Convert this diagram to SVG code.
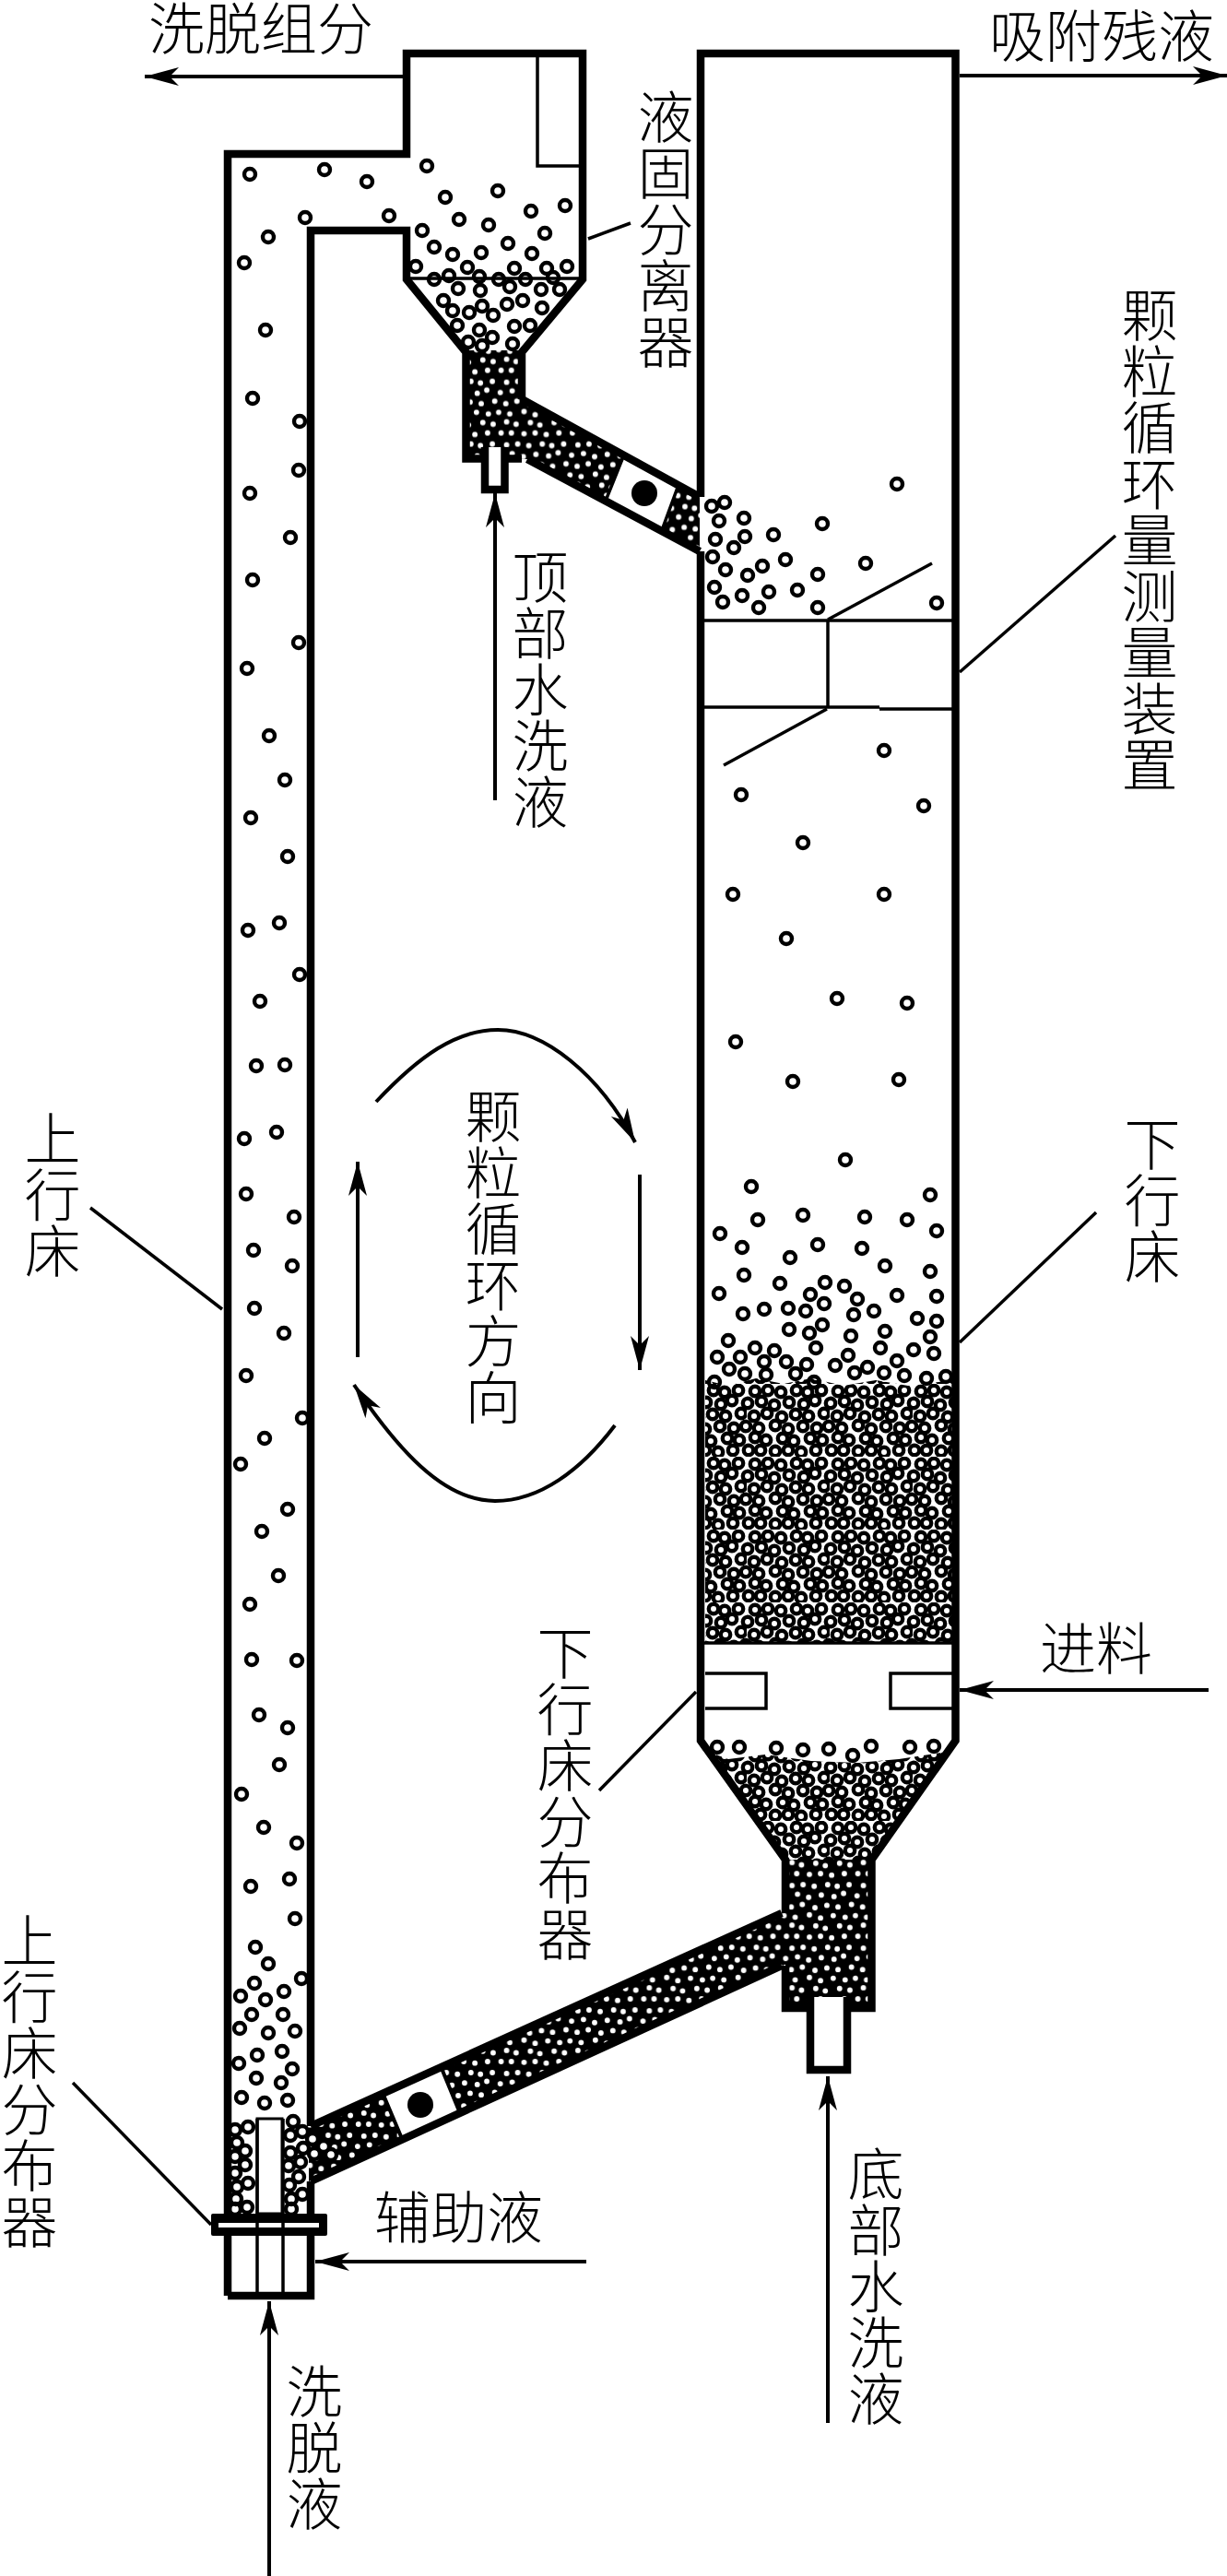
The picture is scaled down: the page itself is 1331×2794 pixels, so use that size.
<svg xmlns="http://www.w3.org/2000/svg" width="1331" height="2794" viewBox="0 0 1331 2794">
<style>
text{font-family:"Noto Sans CJK SC","Noto Sans CJK TC",sans-serif;font-size:61px;font-weight:300;fill:#000}
.v{writing-mode:vertical-rl}
.wall{fill:none;stroke:#000;stroke-width:8.5;stroke-linejoin:miter}
.thin{fill:none;stroke:#000;stroke-width:3.5}
.lead{fill:none;stroke:#000;stroke-width:3.5}
.arr{fill:none;stroke:#000;stroke-width:4;marker-end:url(#head)}
.p circle{r:6px;fill:none;stroke:#000;stroke-width:4.4}
.p .f{fill:#fff}
</style>
<defs>
<marker id="head" markerUnits="userSpaceOnUse" markerWidth="40" markerHeight="24" refX="37" refY="12" orient="auto" viewBox="0 0 40 24"><path d="M37,12 L0,2 L10,12 L0,22Z" fill="#000"/></marker>
<g id="t"><circle cx="9" cy="8" r="5.2"/><circle cx="23" cy="7" r="5.2"/><circle cx="37" cy="9" r="5.2"/><circle cx="54" cy="7" r="5.2"/><circle cx="66" cy="9" r="5.2"/><circle cx="81" cy="7" r="5.2"/><circle cx="1" cy="21" r="5.2"/><circle cx="91" cy="21" r="5.2"/><circle cx="16" cy="19" r="5.2"/><circle cx="30" cy="23" r="5.2"/><circle cx="46" cy="20" r="5.2"/><circle cx="62" cy="22" r="5.2"/><circle cx="74" cy="18" r="5.2"/><circle cx="8" cy="35" r="5.2"/><circle cx="22" cy="32" r="5.2"/><circle cx="38" cy="36" r="5.2"/><circle cx="53" cy="33" r="5.2"/><circle cx="67" cy="35" r="5.2"/><circle cx="84" cy="32" r="5.2"/><circle cx="-1" cy="46" r="5.2"/><circle cx="89" cy="46" r="5.2"/><circle cx="13" cy="48" r="5.2"/><circle cx="31" cy="45" r="5.2"/><circle cx="45" cy="49" r="5.2"/><circle cx="61" cy="46" r="5.2"/><circle cx="76" cy="48" r="5.2"/><circle cx="9" cy="58" r="5.2"/><circle cx="21" cy="61" r="5.2"/><circle cx="39" cy="59" r="5.2"/><circle cx="51" cy="62" r="5.2"/><circle cx="69" cy="59" r="5.2"/><circle cx="82" cy="61" r="5.2"/><circle cx="2" cy="72" r="5.2"/><circle cx="92" cy="72" r="5.2"/><circle cx="15" cy="72" r="5.2"/><circle cx="31" cy="73" r="5.2"/><circle cx="45" cy="72" r="5.2"/><circle cx="59" cy="74" r="5.2"/><circle cx="75" cy="72" r="5.2"/></g>
<pattern id="pack" patternUnits="userSpaceOnUse" width="90" height="79"><use href="#t" fill="#fff" stroke="#000" stroke-width="4.4"/></pattern>
<pattern id="dense" patternUnits="userSpaceOnUse" width="90" height="79" patternTransform="scale(.86)"><rect width="90" height="79" fill="#000"/><use href="#t" fill="#fff" stroke="#000" stroke-width="3.6"/></pattern>
</defs>
<rect width="1331" height="2794" fill="#fff"/>

<g id="particles-packed">
<path d="M765,1497 L790,1503 L820,1495 L850,1501 L880,1495 L915,1503 L950,1497 L985,1503 L1033,1497 V1782 H765Z" fill="url(#pack)"/>
<path d="M768,1900 L790,1908 L830,1903 L880,1910 L930,1912 L975,1908 L1028,1900 L942,2017 H856Z" fill="url(#pack)"/>
<path d="M852,2017 H946 V2178 H852Z" fill="url(#dense)"/>
<path d="M505,380 H566 V433 L759,539 V598 L572,498 H505Z" fill="url(#dense)"/>
<path d="M335,2306 L860,2070 V2127 L335,2366Z" fill="url(#dense)"/>
</g>

<g id="particles-loose" class="p">
<circle cx="271" cy="189"/><circle cx="352" cy="184"/><circle cx="398" cy="197"/><circle cx="463" cy="180"/><circle cx="483" cy="214"/><circle cx="540" cy="207"/><circle cx="613" cy="223"/><circle cx="576" cy="229"/><circle cx="331" cy="236"/><circle cx="422" cy="234"/><circle cx="498" cy="238"/><circle cx="530" cy="244"/><circle cx="458" cy="250"/><circle cx="591" cy="253"/><circle cx="291" cy="257"/><circle cx="265" cy="285"/><circle cx="551" cy="264"/><circle cx="471" cy="268"/><circle cx="491" cy="276"/><circle cx="522" cy="274"/><circle cx="577" cy="275"/><circle cx="451" cy="289"/><circle cx="507" cy="290"/><circle cx="558" cy="291"/><circle cx="593" cy="291"/><circle cx="615" cy="289"/><circle cx="471" cy="303"/><circle cx="487" cy="299"/><circle cx="520" cy="300"/><circle cx="541" cy="303"/><circle cx="570" cy="303"/><circle cx="600" cy="301"/><circle cx="497" cy="313"/><circle cx="521" cy="315"/><circle cx="553" cy="311"/><circle cx="587" cy="314"/><circle cx="607" cy="314"/><circle cx="481" cy="326"/><circle cx="491" cy="337"/><circle cx="509" cy="339"/><circle cx="523" cy="332"/><circle cx="535" cy="342"/><circle cx="550" cy="330"/><circle cx="567" cy="326"/><circle cx="588" cy="334"/><circle cx="496" cy="353"/><circle cx="520" cy="358"/><circle cx="534" cy="366"/><circle cx="558" cy="354"/><circle cx="575" cy="353"/><circle cx="508" cy="371"/><circle cx="523" cy="375"/><circle cx="556" cy="373"/>
<circle cx="288" cy="358"/><circle cx="274" cy="432"/><circle cx="325" cy="457"/><circle cx="324" cy="510"/><circle cx="271" cy="535"/><circle cx="315" cy="583"/><circle cx="274" cy="629"/><circle cx="324" cy="697"/><circle cx="268" cy="725"/><circle cx="292" cy="798"/><circle cx="309" cy="846"/><circle cx="272" cy="887"/><circle cx="312" cy="929"/><circle cx="269" cy="1009"/><circle cx="303" cy="1001"/><circle cx="325" cy="1057"/><circle cx="282" cy="1086"/><circle cx="278" cy="1156"/><circle cx="309" cy="1155"/><circle cx="265" cy="1235"/><circle cx="300" cy="1228"/><circle cx="267" cy="1295"/><circle cx="319" cy="1320"/><circle cx="275" cy="1356"/><circle cx="317" cy="1373"/><circle cx="276" cy="1419"/><circle cx="308" cy="1446"/><circle cx="267" cy="1492"/><circle cx="328" cy="1538"/><circle cx="287" cy="1560"/><circle cx="261" cy="1588"/><circle cx="312" cy="1637"/><circle cx="284" cy="1661"/><circle cx="302" cy="1709"/><circle cx="271" cy="1740"/><circle cx="273" cy="1800"/><circle cx="322" cy="1801"/><circle cx="281" cy="1860"/><circle cx="312" cy="1874"/><circle cx="303" cy="1914"/><circle cx="262" cy="1946"/><circle cx="286" cy="1982"/><circle cx="322" cy="1999"/><circle cx="314" cy="2038"/><circle cx="272" cy="2046"/><circle cx="320" cy="2081"/><circle cx="277" cy="2112"/><circle cx="291" cy="2130"/><circle cx="327" cy="2146"/><circle cx="276" cy="2151"/><circle cx="261" cy="2165"/><circle cx="288" cy="2169"/><circle cx="308" cy="2160"/><circle cx="273" cy="2185"/><circle cx="307" cy="2185"/><circle cx="260" cy="2200"/><circle cx="291" cy="2205"/><circle cx="320" cy="2203"/><circle cx="306" cy="2225"/><circle cx="279" cy="2229"/><circle cx="259" cy="2238"/><circle cx="317" cy="2244"/><circle cx="278" cy="2254"/><circle cx="305" cy="2259"/><circle cx="262" cy="2275"/><circle cx="287" cy="2281"/><circle cx="312" cy="2278"/>
<circle cx="255" cy="2310"/><circle cx="269" cy="2307"/><circle cx="257" cy="2324"/><circle cx="266" cy="2333"/><circle cx="255" cy="2339"/><circle cx="266" cy="2348"/><circle cx="255" cy="2357"/><circle cx="269" cy="2368"/><circle cx="257" cy="2372"/><circle cx="256" cy="2385"/><circle cx="268" cy="2394"/><circle cx="255" cy="2396"/><circle cx="318" cy="2301"/><circle cx="328" cy="2312"/><circle cx="315" cy="2316"/><circle cx="329" cy="2330"/><circle cx="315" cy="2335"/><circle cx="313" cy="2349"/><circle cx="324" cy="2361"/><circle cx="314" cy="2370"/><circle cx="328" cy="2380"/><circle cx="316" cy="2385"/><circle cx="316" cy="2396"/>
<circle class="f" cx="339" cy="2320"/><circle class="f" cx="326" cy="2345"/><circle class="f" cx="341" cy="2336"/><circle class="f" cx="359" cy="2337"/><circle class="f" cx="351" cy="2328"/>
<circle cx="973" cy="525"/><circle cx="786" cy="545"/><circle cx="772" cy="549"/><circle cx="807" cy="562"/><circle cx="892" cy="568"/><circle cx="780" cy="565"/><circle cx="839" cy="580"/><circle cx="808" cy="582"/><circle cx="776" cy="585"/><circle cx="796" cy="594"/><circle cx="773" cy="604"/><circle cx="852" cy="607"/><circle cx="939" cy="611"/><circle cx="827" cy="614"/><circle cx="787" cy="618"/><circle cx="811" cy="624"/><circle cx="887" cy="623"/><circle cx="775" cy="637"/><circle cx="834" cy="642"/><circle cx="865" cy="640"/><circle cx="805" cy="646"/><circle cx="784" cy="653"/><circle cx="823" cy="659"/><circle cx="887" cy="659"/><circle cx="1016" cy="654"/>
<circle cx="959" cy="814"/><circle cx="804" cy="862"/><circle cx="1002" cy="874"/><circle cx="871" cy="914"/><circle cx="795" cy="970"/><circle cx="959" cy="970"/><circle cx="853" cy="1018"/><circle cx="908" cy="1083"/><circle cx="984" cy="1088"/><circle cx="798" cy="1130"/><circle cx="860" cy="1173"/><circle cx="975" cy="1171"/><circle cx="917" cy="1258"/><circle cx="815" cy="1287"/><circle cx="1009" cy="1296"/><circle cx="822" cy="1323"/><circle cx="871" cy="1318"/><circle cx="938" cy="1320"/><circle cx="984" cy="1323"/><circle cx="781" cy="1338"/><circle cx="1016" cy="1335"/><circle cx="805" cy="1353"/><circle cx="887" cy="1350"/><circle cx="857" cy="1364"/><circle cx="935" cy="1354"/><circle cx="960" cy="1373"/><circle cx="807" cy="1383"/><circle cx="1009" cy="1379"/><circle cx="846" cy="1392"/><circle cx="895" cy="1391"/><circle cx="916" cy="1395"/><circle cx="780" cy="1403"/><circle cx="879" cy="1404"/><circle cx="930" cy="1409"/><circle cx="973" cy="1405"/><circle cx="1016" cy="1406"/><circle cx="806" cy="1425"/><circle cx="829" cy="1420"/><circle cx="855" cy="1419"/><circle cx="874" cy="1422"/><circle cx="894" cy="1414"/><circle cx="926" cy="1426"/><circle cx="948" cy="1422"/><circle cx="995" cy="1430"/><circle cx="1016" cy="1433"/><circle cx="856" cy="1442"/><circle cx="878" cy="1446"/><circle cx="892" cy="1437"/><circle cx="923" cy="1449"/><circle cx="960" cy="1444"/><circle cx="1009" cy="1450"/><circle cx="790" cy="1454"/><circle cx="819" cy="1462"/><circle cx="840" cy="1465"/><circle cx="885" cy="1462"/><circle cx="955" cy="1462"/><circle cx="991" cy="1464"/><circle cx="1013" cy="1468"/><circle cx="778" cy="1472"/><circle cx="803" cy="1472"/><circle cx="920" cy="1470"/><circle cx="973" cy="1476"/><circle cx="829" cy="1477"/><circle cx="853" cy="1477"/><circle cx="875" cy="1480"/><circle cx="791" cy="1485"/><circle cx="808" cy="1490"/><circle cx="831" cy="1491"/><circle cx="863" cy="1490"/><circle cx="906" cy="1481"/><circle cx="941" cy="1483"/><circle cx="927" cy="1489"/><circle cx="959" cy="1489"/><circle cx="981" cy="1492"/><circle cx="1005" cy="1495"/><circle cx="1026" cy="1493"/><circle cx="883" cy="1499"/><circle cx="775" cy="1499"/>
<circle cx="945" cy="1894"/><circle cx="987" cy="1895"/><circle cx="1013" cy="1894"/><circle cx="871" cy="1898"/><circle cx="925" cy="1904"/><circle cx="899" cy="1897"/><circle cx="778" cy="1895"/><circle cx="802" cy="1895"/><circle cx="842" cy="1896"/>
</g>

<g id="upflow-bed">
<path class="wall" d="M247,2490 V167 H441 V58 H632 V303 L566,382 V433"/>
<path class="wall" d="M337,2306 V250 H441 V303 L505.500,382 V497.500 H566"/>
<path class="wall" d="M337,2366 V2490 H247"/>
<path class="thin" d="M583,58 V180 H632"/>
<path class="thin" d="M441,302 H632"/>
</g>

<g id="top-pipe">
<path d="M677,493 L736,526 L718,575 L657,543Z" fill="#fff" stroke="#000" stroke-width="3.500"/>
<path class="wall" d="M566,433 L759,539"/>
<path class="wall" d="M572,498 L759,598"/>
<circle cx="699" cy="535" r="14" fill="#000"/>
<path d="M526,485 V531 H547.500 V485" fill="#fff" stroke="#000" stroke-width="8.500"/>
</g>

<g id="downflow-bed">
<path class="wall" d="M760,539 V58 H1036.500 V1888 L945.500,2017 V2178 H852 V2132"/>
<path class="wall" d="M852,2075 V2017 L760,1888 V598"/>
<path class="thin" d="M764,1782 H1033"/>
<path class="thin" d="M765,1815 H831 V1853 H765"/>
<path class="thin" d="M1033,1815 H966 V1853 H1033"/>
<path d="M879,2166 V2245 H919 V2166" fill="#fff" stroke="#000" stroke-width="8.500"/>
</g>

<g id="measuring-device">
<path class="thin" d="M764,673 H1033"/>
<path class="thin" d="M764,767 H954"/>
<path class="thin" d="M954,769 H1033"/>
<path class="thin" d="M898,673 V767"/>
<path class="thin" d="M898,672 L1011,611"/>
<path class="thin" d="M897,769 L785,830"/>
</g>

<g id="bottom-pipe">
<path d="M415,2270 L478,2241 L499,2292 L437,2322Z" fill="#fff" stroke="#000" stroke-width="4"/>
<path class="wall" d="M337,2306 L848,2075"/>
<path class="wall" d="M337,2366 L848,2132"/>
<circle cx="456" cy="2283" r="14" fill="#000"/>
</g>

<g id="upflow-distributor">
<path d="M279,2298 H306 V2401 H279Z" fill="#fff" stroke="#000" stroke-width="3"/>
<rect x="229" y="2401" width="126" height="24" rx="2" fill="#000"/>
<rect x="237" y="2411" width="109" height="5" fill="#fff"/>
<path class="thin" d="M279,2298 V2486 M307,2298 V2486"/>
</g>

<g id="connectors">
<path class="arr" d="M437,83 H157"/>
<path class="arr" d="M1041,82 H1331"/>
<path class="arr" d="M537,868 V535"/>
<path class="arr" d="M1311,1833 H1041"/>
<path class="arr" d="M898,2628 V2252"/>
<path class="arr" d="M636,2453 H342"/>
<path class="arr" d="M292,2794 V2496"/>
<path class="arr" d="M694,1274 V1486"/>
<path class="arr" d="M388,1472 V1260"/>
<path class="arr" d="M408,1195 C455,1145 495,1117 540,1117 C590,1117 650,1165 689,1239"/>
<path class="arr" d="M667,1546 C630,1595 585,1628 537,1628 C480,1628 430,1570 384,1502"/>
<path class="lead" d="M638,259 L684,242"/>
<path class="lead" d="M1041,729 L1210,581"/>
<path class="lead" d="M241,1420 L98,1310"/>
<path class="lead" d="M1041,1456 L1189,1315"/>
<path class="lead" d="M755,1835 L650,1942"/>
<path class="lead" d="M229,2413 L79,2259"/>
</g>

<g id="labels">
<text x="161" y="54">洗脱组分</text>
<text x="1073" y="62">吸附残液</text>
<text class="v" x="722" y="96">液固分离器</text>
<text class="v" x="1247" y="311">颗粒循环量测量装置</text>
<text class="v" x="586" y="595">顶部水洗液</text>
<text class="v" x="535" y="1180">颗粒循环方向</text>
<text class="v" x="57" y="1204">上行床</text>
<text class="v" x="1250" y="1210">下行床</text>
<text x="1128" y="1811">进料</text>
<text class="v" x="613" y="1762">下行床分布器</text>
<text class="v" x="950" y="2327">底部水洗液</text>
<text class="v" x="32" y="2074">上行床分布器</text>
<text x="406" y="2428">辅助液</text>
<text class="v" x="341" y="2563">洗脱液</text>
</g>
</svg>
